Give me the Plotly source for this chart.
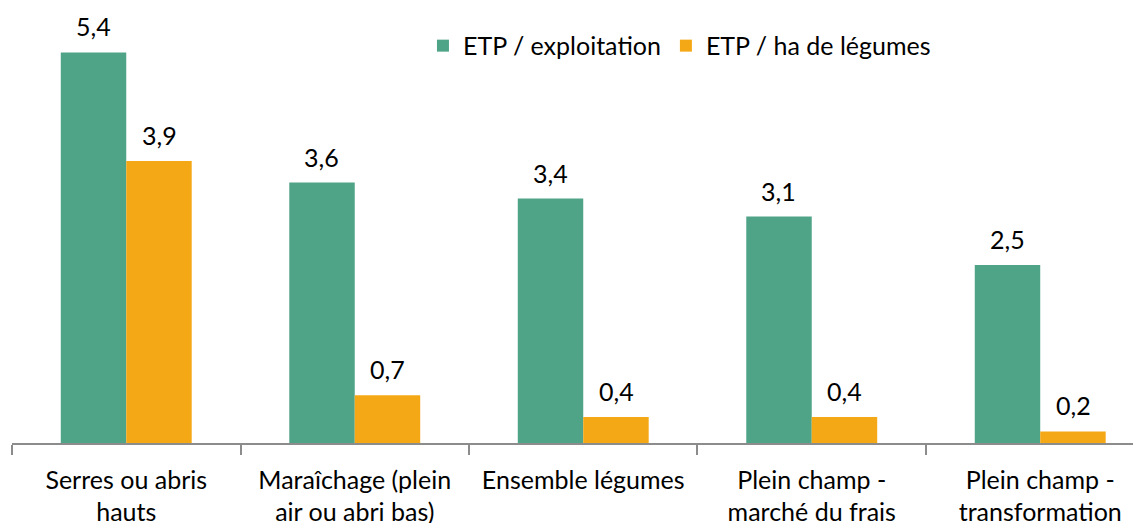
import plotly.graph_objects as go

categories = ["Serres ou abris<br>hauts", "Maraîchage (plein<br>air ou abri bas)", "Ensemble légumes",
              "Plein champ -<br>marché du frais", "Plein champ -<br>transformation"]
etp_exploitation = [5.4, 3.6, 3.38, 3.13, 2.46]
etp_ha_legumes = [3.9, 0.66, 0.36, 0.36, 0.16]

green = "#4FA387"
orange = "#F5A816"
font_family = "Lato, Carlito, Calibri, sans-serif"

fig = go.Figure()
fig.add_trace(go.Bar(name="ETP / exploitation", x=categories, y=etp_exploitation,
                     marker_color=green, marker_line_width=0))
fig.add_trace(go.Bar(name="ETP / ha de légumes", x=categories, y=etp_ha_legumes,
                     marker_color=orange, marker_line_width=0))


def fmt(v):
    return f"{v:.1f}".replace(".", ",")


annotations = []
for series, shift in ((etp_exploitation, -33), (etp_ha_legumes, 33)):
    for cat, v in zip(categories, series):
        annotations.append(dict(x=cat, y=v, xref="x", yref="y", text=fmt(v), showarrow=False,
                                xanchor="center", yanchor="bottom", xshift=shift, yshift=9,
                                font=dict(size=25, color="#000000")))

fig.update_layout(
    width=1133, height=515,
    margin=dict(l=4, r=0, t=1, b=80),
    paper_bgcolor="white", plot_bgcolor="white",
    barmode="group", bargap=0.427, bargroupgap=0,
    separators=", ",
    font=dict(family=font_family, size=25, color="#000000"),
    showlegend=True,
    annotations=annotations,
    legend=dict(orientation="h", x=0.364, y=0.915, xanchor="left", yanchor="middle",
                font=dict(size=25), itemwidth=30, traceorder="normal", bgcolor="rgba(0,0,0,0)"),
    xaxis=dict(type="category", range=[-0.5, 4.441], tickson="boundaries", automargin=False,
               showline=True, linecolor="#8C8C8C", linewidth=1.5,
               ticks="outside", ticklen=10, tickcolor="#8C8C8C", tickwidth=1.5,
               ticklabelstandoff=14,
               tickfont=dict(size=25, color="#000000"), showgrid=False),
    yaxis=dict(range=[0, 6], visible=False, showgrid=False, zeroline=False, automargin=False),
)

fig.write_html("out.html")
